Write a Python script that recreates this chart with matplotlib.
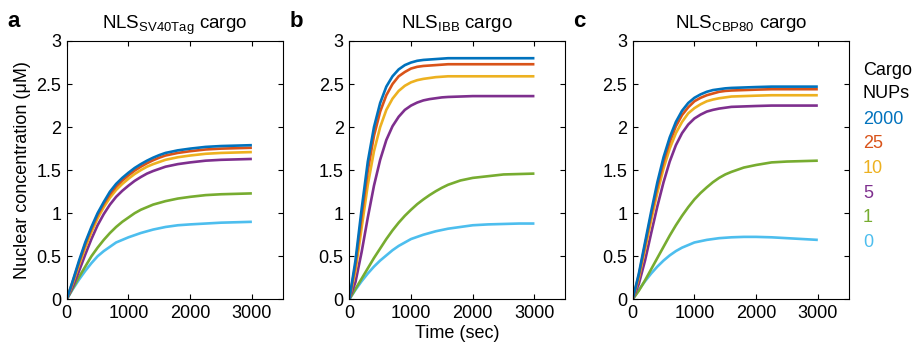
import matplotlib.pyplot as plt

plt.rcParams['font.family'] = ['Liberation Sans', 'DejaVu Sans']
plt.rcParams['mathtext.fontset'] = 'custom'
plt.rcParams['mathtext.rm'] = 'Liberation Sans'

t = [0, 100, 200, 300, 400, 500, 600, 700, 800, 900, 1000, 1100,
     1200, 1300, 1400, 1500, 1600, 1800, 2000, 2250, 2500, 2750, 3000]

nups = ['2000', '25', '10', '5', '1', '0']
colors = ['#0072BD', '#D95319', '#EDB120', '#7E2F8E', '#77AC30', '#4DBEEE']

# panel a: NLS SV40Tag
a_2000 = [0, 0.22, 0.45, 0.66, 0.84, 1.0, 1.13, 1.25, 1.34, 1.41, 1.47, 1.525, 1.57, 1.61, 1.645, 1.675, 1.70, 1.73, 1.75, 1.77, 1.78, 1.785, 1.79]
a_25 = [0, 0.21, 0.43, 0.64, 0.82, 0.98, 1.11, 1.22, 1.31, 1.38, 1.44, 1.495, 1.54, 1.58, 1.615, 1.645, 1.67, 1.70, 1.72, 1.74, 1.75, 1.755, 1.76]
a_10 = [0, 0.19, 0.40, 0.60, 0.78, 0.94, 1.07, 1.18, 1.27, 1.34, 1.40, 1.455, 1.50, 1.54, 1.57, 1.595, 1.62, 1.65, 1.67, 1.69, 1.70, 1.705, 1.71]
a_5 = [0, 0.15, 0.33, 0.52, 0.70, 0.86, 0.99, 1.10, 1.19, 1.26, 1.32, 1.375, 1.42, 1.46, 1.49, 1.515, 1.54, 1.57, 1.59, 1.61, 1.62, 1.625, 1.63]
a_1 = [0, 0.13, 0.26, 0.38, 0.50, 0.60, 0.69, 0.77, 0.84, 0.90, 0.95, 1.00, 1.04, 1.07, 1.10, 1.12, 1.14, 1.17, 1.19, 1.21, 1.22, 1.225, 1.23]
a_0 = [0, 0.12, 0.23, 0.33, 0.42, 0.50, 0.56, 0.61, 0.66, 0.69, 0.72, 0.745, 0.77, 0.79, 0.81, 0.825, 0.84, 0.86, 0.87, 0.88, 0.89, 0.895, 0.90]

# panel b: NLS IBB
b_2000 = [0, 0.45, 1.05, 1.60, 2.00, 2.28, 2.47, 2.59, 2.67, 2.72, 2.75, 2.77, 2.78, 2.785, 2.79, 2.795, 2.80, 2.80, 2.80, 2.80, 2.80, 2.80, 2.80]
b_25 = [0, 0.40, 0.97, 1.50, 1.90, 2.18, 2.37, 2.50, 2.59, 2.64, 2.68, 2.70, 2.71, 2.715, 2.72, 2.725, 2.73, 2.73, 2.73, 2.73, 2.73, 2.73, 2.73]
b_10 = [0, 0.33, 0.83, 1.33, 1.72, 2.00, 2.20, 2.33, 2.42, 2.48, 2.52, 2.545, 2.56, 2.57, 2.58, 2.585, 2.59, 2.59, 2.59, 2.59, 2.59, 2.59, 2.59]
b_5 = [0, 0.20, 0.55, 0.95, 1.32, 1.62, 1.85, 2.01, 2.12, 2.20, 2.25, 2.285, 2.31, 2.325, 2.335, 2.345, 2.35, 2.355, 2.36, 2.36, 2.36, 2.36, 2.36]
b_1 = [0, 0.12, 0.24, 0.36, 0.48, 0.59, 0.70, 0.80, 0.89, 0.97, 1.04, 1.105, 1.16, 1.21, 1.255, 1.295, 1.33, 1.38, 1.41, 1.43, 1.45, 1.455, 1.46]
b_0 = [0, 0.11, 0.21, 0.30, 0.38, 0.45, 0.51, 0.57, 0.62, 0.66, 0.70, 0.725, 0.75, 0.77, 0.79, 0.805, 0.82, 0.84, 0.86, 0.87, 0.875, 0.88, 0.88]

# panel c: NLS CBP80
c_2000 = [0, 0.30, 0.66, 1.02, 1.36, 1.65, 1.88, 2.06, 2.19, 2.28, 2.34, 2.38, 2.41, 2.43, 2.44, 2.45, 2.455, 2.46, 2.465, 2.47, 2.47, 2.47, 2.47]
c_25 = [0, 0.28, 0.63, 0.98, 1.31, 1.60, 1.83, 2.01, 2.14, 2.23, 2.30, 2.34, 2.37, 2.39, 2.41, 2.42, 2.425, 2.43, 2.435, 2.44, 2.44, 2.44, 2.44]
c_10 = [0, 0.25, 0.58, 0.92, 1.24, 1.52, 1.75, 1.93, 2.06, 2.16, 2.22, 2.265, 2.30, 2.32, 2.335, 2.345, 2.355, 2.36, 2.365, 2.37, 2.37, 2.37, 2.37]
c_5 = [0, 0.18, 0.45, 0.77, 1.08, 1.36, 1.60, 1.79, 1.93, 2.03, 2.10, 2.145, 2.18, 2.20, 2.215, 2.225, 2.235, 2.24, 2.245, 2.25, 2.25, 2.25, 2.25]
c_1 = [0, 0.10, 0.22, 0.35, 0.48, 0.61, 0.74, 0.86, 0.97, 1.07, 1.16, 1.235, 1.30, 1.36, 1.41, 1.45, 1.48, 1.53, 1.56, 1.59, 1.60, 1.605, 1.61]
c_0 = [0, 0.11, 0.21, 0.30, 0.38, 0.45, 0.51, 0.56, 0.60, 0.63, 0.66, 0.675, 0.69, 0.70, 0.71, 0.715, 0.72, 0.725, 0.725, 0.72, 0.71, 0.70, 0.69]

panels = [
    ('a', r'NLS$_{\mathrm{SV40Tag}}$ cargo', [a_2000, a_25, a_10, a_5, a_1, a_0]),
    ('b', r'NLS$_{\mathrm{IBB}}$ cargo', [b_2000, b_25, b_10, b_5, b_1, b_0]),
    ('c', r'NLS$_{\mathrm{CBP80}}$ cargo', [c_2000, c_25, c_10, c_5, c_1, c_0]),
]

fig = plt.figure(figsize=(9.18, 3.54), dpi=100)
lefts = [0.0727, 0.3805, 0.6892]
axes = []
for i, (letter, title, series) in enumerate(panels):
    ax = fig.add_axes([lefts[i], 0.1545, 0.2353, 0.7297])
    axes.append(ax)
    for ys, col in zip(series[::-1], colors[::-1]):
        ax.plot(t, ys, color=col, lw=1.9, solid_capstyle='butt',
                solid_joinstyle='round')
    ax.set_xlim(0, 3500)
    ax.set_ylim(0, 3)
    ax.set_xticks([0, 1000, 2000, 3000])
    ax.set_yticks([0, 0.5, 1, 1.5, 2, 2.5, 3])
    ax.set_yticklabels(['0', '0.5', '1', '1.5', '2', '2.5', '3'])
    ax.tick_params(direction='in', top=True, right=True, labelsize=13,
                   length=3.5, width=0.8, pad=4)
    for s in ax.spines.values():
        s.set_linewidth(0.8)
    ax.set_title(title, fontsize=13.5, pad=9)
    fig.text(lefts[i] - 0.065, 0.94, letter, fontsize=16, fontweight='bold',
             va='center')

axes[0].set_ylabel('Nuclear concentration (\u03bcM)', fontsize=13, labelpad=4)
axes[1].set_xlabel('Time (sec)', fontsize=13, labelpad=2)

# legend-style labels at right
fig.text(0.940, 0.80, 'Cargo', fontsize=13, va='center')
fig.text(0.940, 0.735, 'NUPs', fontsize=13, va='center')
for k, (lab, col) in enumerate(zip(nups, colors)):
    fig.text(0.940, 0.663 - k * 0.0695, lab, fontsize=13, color=col, va='center')

fig.savefig('out.png', dpi=100)
